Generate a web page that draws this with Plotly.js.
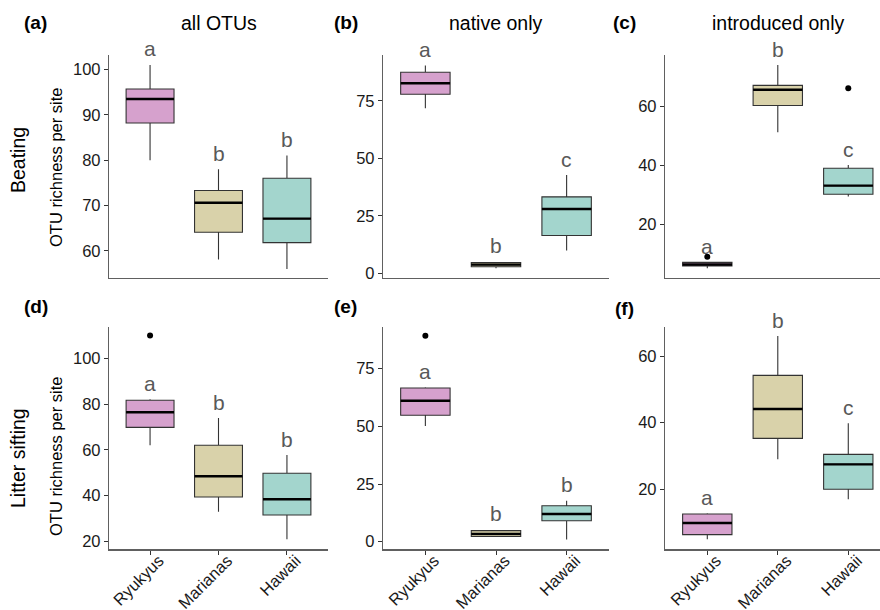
<!DOCTYPE html>
<html>
<head>
<meta charset="utf-8">
<script src="https://cdn.plot.ly/plotly-3.0.1.min.js"></script>
<style>html,body{margin:0;padding:0;background:#fff}#chart{width:880px;height:610px}</style>
</head>
<body>
<div id="chart"></div>
<script>
// ---------- data ----------
var regions = ['Ryukyus', 'Marianas', 'Hawaii'];
var panelLetters = ['(a)', '(b)', '(c)', '(d)', '(e)', '(f)'];
var columnTitles = ['all OTUs', 'native only', 'introduced only'];
var rowTitles = ['Beating', 'Litter sifting'];
var yAxisTitle = 'OTU richness per site';

// per panel: [Ryukyus, Marianas, Hawaii]
var a_lower = [80, 58.1, 56];
var a_q1 = [88.2, 64.1, 61.8];
var a_median = [93.5, 70.6, 67.1];
var a_q3 = [95.7, 73.3, 76];
var a_upper = [101, 78, 81];
var a_letters = ['a', 'b', 'b'];
var a_outliers = [[], [], []];

var b_lower = [71.8, 2.2, 10];
var b_q1 = [77.9, 2.9, 16.5];
var b_median = [82.7, 3.8, 28];
var b_q3 = [87.5, 4.7, 33.3];
var b_upper = [90.4, 5.0, 42.8];
var b_letters = ['a', 'b', 'c'];
var b_outliers = [[], [], []];

var c_lower = [5.0, 51.1, 29.3];
var c_q1 = [5.8, 60.2, 30.1];
var c_median = [6.3, 65.5, 33];
var c_q3 = [7.0, 67, 38.9];
var c_upper = [7.0, 73.9, 40];
var c_letters = ['a', 'b', 'c'];
var c_outliers = [[8.9], [], [66]];

var d_lower = [62.1, 33, 20.9];
var d_q1 = [69.9, 39.4, 31.5];
var d_median = [76.5, 48.5, 38.4];
var d_q3 = [81.8, 62.1, 49.8];
var d_upper = [82.2, 74, 57.8];
var d_letters = ['a', 'b', 'b'];
var d_outliers = [[110.1], [], []];

var e_lower = [50.2, 2.0, 1.0];
var e_q1 = [54.8, 2.3, 9.1];
var e_median = [61.1, 3.4, 12];
var e_q3 = [66.6, 4.8, 15.6];
var e_upper = [66.9, 5.1, 17.8];
var e_letters = ['a', 'b', 'b'];
var e_outliers = [[89.3], [], []];

var f_lower = [5, 29, 17];
var f_q1 = [6.4, 35.3, 20];
var f_median = [9.9, 44.1, 27.5];
var f_q3 = [12.6, 54.2, 30.5];
var f_upper = [12.8, 66, 39.8];
var f_letters = ['a', 'b', 'c'];
var f_outliers = [[], [], []];

var yTicks = [
  [60, 70, 80, 90, 100],
  [0, 25, 50, 75],
  [20, 40, 60],
  [20, 40, 60, 80, 100],
  [0, 25, 50, 75],
  [20, 40, 60]
];
var yRanges = [[54, 103.2], [-2.0, 95], [1.7, 77.3], [16.5, 114], [-3.3, 93.2], [2, 68.8]];

// ---------- styling / layout ----------
var W = 880, H = 610;
var fills = ['#D6A1CD', '#D9D2AA', '#A3D5CD'];
var FONT = 'Liberation Sans, Arial, sans-serif';
var xDomPx = [[109, 328], [383, 609], [665, 880]];
var xRangeEnd = [2.6, 2.6, 2.45];
var yDomPx = [[55, 278], [326.7, 549.3]];

var panels = [
  {lo: a_lower, q1: a_q1, med: a_median, q3: a_q3, up: a_upper, let: a_letters, out: a_outliers},
  {lo: b_lower, q1: b_q1, med: b_median, q3: b_q3, up: b_upper, let: b_letters, out: b_outliers},
  {lo: c_lower, q1: c_q1, med: c_median, q3: c_q3, up: c_upper, let: c_letters, out: c_outliers},
  {lo: d_lower, q1: d_q1, med: d_median, q3: d_q3, up: d_upper, let: d_letters, out: d_outliers},
  {lo: e_lower, q1: e_q1, med: e_median, q3: e_q3, up: e_upper, let: e_letters, out: e_outliers},
  {lo: f_lower, q1: f_q1, med: f_median, q3: f_q3, up: f_upper, let: f_letters, out: f_outliers}
];

var traces = [];
var layout = {
  width: W, height: H,
  margin: {l: 0, r: 0, t: 0, b: 0},
  paper_bgcolor: '#fff', plot_bgcolor: '#fff',
  showlegend: false,
  boxmode: 'overlay',
  font: {family: FONT, color: '#1a1a1a'},
  annotations: []
};

panels.forEach(function (p, i) {
  var n = i + 1;
  var xa = n === 1 ? 'x' : 'x' + n;
  var ya = n === 1 ? 'y' : 'y' + n;
  var col = i % 3, row = Math.floor(i / 3);
  var bottom = row === 1;
  layout['xaxis' + (n === 1 ? '' : n)] = {
    domain: [xDomPx[col][0] / W, xDomPx[col][1] / W],
    anchor: ya,
    type: 'category',
    categoryorder: 'array',
    categoryarray: regions,
    range: [-0.6, xRangeEnd[col]],
    showline: true, linecolor: '#606060', linewidth: 1.2,
    showgrid: false, zeroline: false,
    ticks: bottom ? 'outside' : '',
    ticklen: 4, tickcolor: '#333', tickwidth: 1,
    showticklabels: bottom,
    tickangle: -45,
    ticklabelshift: 9,
    ticklabelstandoff: -10,
    tickfont: {family: FONT, size: 16.5, color: '#1a1a1a'},
    fixedrange: true
  };
  layout['yaxis' + (n === 1 ? '' : n)] = {
    domain: [1 - yDomPx[row][1] / H, 1 - yDomPx[row][0] / H],
    anchor: xa,
    range: yRanges[i],
    tickmode: 'array', tickvals: yTicks[i],
    showline: true, linecolor: '#606060', linewidth: 1.2,
    showgrid: false, zeroline: false,
    ticks: 'outside', ticklen: 4, tickcolor: '#333', tickwidth: 1,
    tickfont: {family: FONT, size: 16.5, color: '#1a1a1a'},
    fixedrange: true
  };
  regions.forEach(function (r, k) {
    traces.push({
      type: 'box', xaxis: xa, yaxis: ya,
      x: [r],
      q1: [p.q1[k]], median: [p.med[k]], q3: [p.q3[k]],
      lowerfence: [p.lo[k]], upperfence: [p.up[k]],
      width: 0.7, whiskerwidth: 0,
      fillcolor: fills[k],
      line: {color: '#333', width: 1.1},
      boxpoints: false, hoverinfo: 'skip'
    });
    // thick median line
    traces.push({
      type: 'box', xaxis: xa, yaxis: ya,
      x: [r],
      q1: [p.med[k]], median: [p.med[k]], q3: [p.med[k]],
      lowerfence: [p.med[k]], upperfence: [p.med[k]],
      width: 0.7, whiskerwidth: 0,
      fillcolor: 'rgba(0,0,0,0)',
      line: {color: '#000', width: 2.4},
      boxpoints: false, hoverinfo: 'skip'
    });
    if (p.out[k].length) {
      traces.push({
        type: 'scatter', mode: 'markers', xaxis: xa, yaxis: ya,
        x: p.out[k].map(function () { return r; }),
        y: p.out[k],
        marker: {color: '#000', size: 6},
        hoverinfo: 'skip'
      });
    }
    layout.annotations.push({
      xref: xa, yref: ya, x: r, y: p.up[k],
      text: p.let[k], showarrow: false,
      xanchor: 'center', yanchor: 'middle', yshift: 16,
      font: {family: FONT, size: 21, color: '#595959'}
    });
  });
});

function paperAnn(text, px, py, opts) {
  var a = {
    xref: 'paper', yref: 'paper', x: px / W, y: 1 - py / H,
    text: text, showarrow: false, xanchor: 'center', yanchor: 'middle',
    font: {family: FONT, size: 19.5, color: '#000'}
  };
  for (var k in opts) a[k] = opts[k];
  layout.annotations.push(a);
}

var letterPos = [[35.5, 22.7], [345.5, 22.7], [624, 22.7], [35.5, 306], [345.5, 306], [624.5, 308]];
panelLetters.forEach(function (t, i) {
  paperAnn('<b>' + t + '</b>', letterPos[i][0], letterPos[i][1], {font: {family: FONT, size: 19, color: '#000'}});
});
var titleX = [218.7, 496, 778];
columnTitles.forEach(function (t, i) { paperAnn(t, titleX[i], 22.7, {}); });
paperAnn(rowTitles[0], 18, 160, {textangle: -90});
paperAnn(rowTitles[1], 18, 458, {textangle: -90});
paperAnn(yAxisTitle, 56, 167, {textangle: -90, font: {family: FONT, size: 16.5, color: '#000'}});
paperAnn(yAxisTitle, 56, 456, {textangle: -90, font: {family: FONT, size: 16.5, color: '#000'}});

Plotly.newPlot('chart', traces, layout, {displayModeBar: false, staticPlot: true});
</script>
</body>
</html>
